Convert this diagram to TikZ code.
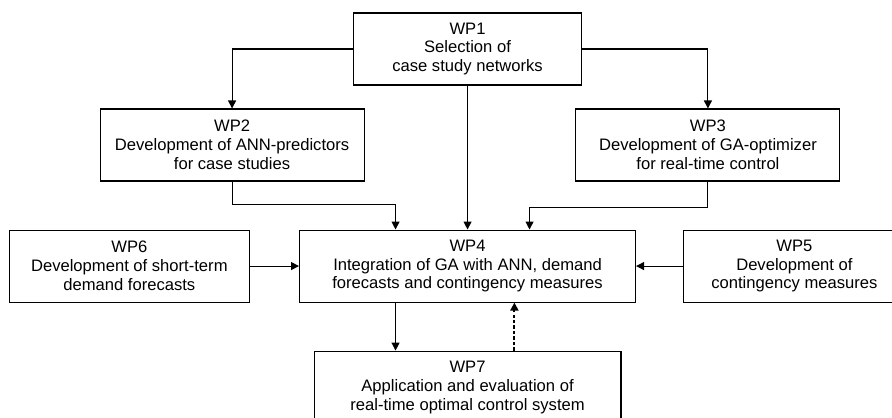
\documentclass[tikz,border=0pt]{standalone}
\usepackage{fontspec}
\setmainfont{Liberation Sans}
\usepackage{tikz}
\usetikzlibrary{shapes,arrows.meta,positioning}
\tikzstyle{wpbox} = [rectangle, draw=black, line width=0.8pt, align=center, minimum height=1.905cm, inner sep=0pt, font=\fontsize{12.5}{14.25}\selectfont]
\tikzstyle{arrow} = [line width=0.8pt,-{Triangle[length=6pt,width=6pt]}]
\tikzstyle{feedback} = [arrow, line width=1.4pt, dash pattern=on 2.5pt off 1.6pt]

\begin{document}
\begin{tikzpicture}[node distance=1.3cm]
        \useasboundingbox (0,0) rectangle (23.6,-11.033);
        \clip (0,0) rectangle (23.6,-11.033);

            \node (wp1) [wpbox, minimum width=6.03cm] at (12.37,-1.296) {WP1\\Selection of\\case study networks};
            \node (wp2) [wpbox, minimum width=6.985cm] at (6.14,-3.836) {WP2\\Development of ANN-predictors\\for case studies};
            \node (wp3) [wpbox, minimum width=6.985cm] at (18.73,-3.836) {WP3\\Development of GA-optimizer\\for real-time control};
            \node (wp4) [wpbox, minimum width=8.89cm, below=3.81cm of wp1] {WP4\\Integration of GA with ANN, demand\\forecasts and contingency measures};
            \node (wp6) [wpbox, minimum width=6.35cm, left=1.3cm of wp4] {WP6\\Development of short-term\\demand forecasts};
            \node (wp5) [wpbox, minimum width=5.87cm, right=1.24cm of wp4] {WP5\\Development of\\contingency measures};
            \node (wp7) [wpbox, minimum width=8.12cm, below=1.27cm of wp4] {WP7\\Application and evaluation of\\real-time optimal control system};

            \coordinate (in2) at ([xshift=-1.905cm]wp4.north);
            \coordinate (in3) at ([xshift=1.64cm]wp4.north);
            \coordinate (out7) at ([xshift=-1.905cm]wp4.south);
            \coordinate (back7) at ([xshift=1.24cm]wp4.south);

            \draw [arrow] (wp1.west) -| (wp2.north);
            \draw [arrow] (wp1.east) -| (wp3.north);
            \draw [arrow] (wp1.south) -- (wp4.north -| wp1.south);
            \draw [arrow] (wp2.south) |- ([yshift=0.66cm]in2) -- (in2);
            \draw [arrow] (wp3.south) |- ([yshift=0.58cm]in3) -- (in3);
            \draw [arrow] (wp6.east) -- (wp4.west);
            \draw [arrow] (wp5.west) -- (wp4.east);
            \draw [arrow] (out7) -- (out7 |- wp7.north);
            \draw [feedback] (back7 |- wp7.north) -- (back7);

    \end{tikzpicture}
\end{document}
